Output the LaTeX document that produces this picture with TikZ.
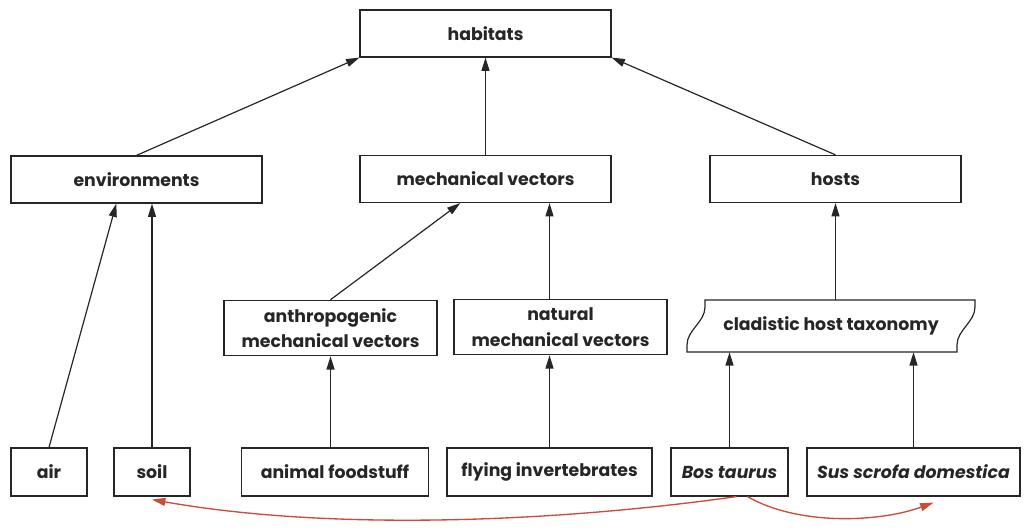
\documentclass[tikz,border=0pt]{standalone}
\usepackage{fontspec}
\setmainfont{Poppins}
\usepackage{xcolor}
\usetikzlibrary{arrows.meta, positioning, calc}

\definecolor{linkred}{RGB}{205,75,55}

\begin{document}
\begin{tikzpicture}[
    x=0.75pt, y=-0.75pt,
    box/.style={draw=black!85, line width=0.9pt, minimum width=188.25pt, minimum height=35.25pt, font=\fontsize{13}{19}\selectfont\bfseries, text=black!85, align=center, inner sep=2pt},
    twobox/.style={box, minimum width=159.75pt, minimum height=41.5pt},
    leafbox/.style={box, minimum height=36pt},
    arrow/.style={-{Triangle[length=10pt, width=6pt]}, line width=0.9pt, draw=black!85},
    redarrow/.style={-{Triangle[length=10pt, width=6pt]}, line width=1pt, draw=linkred}
]
\useasboundingbox (0,0) rectangle (1028,530);

% Top level
\node[box] (hab) at (485.5,33.5) {habitats};
\node[box] (env) at (136.5,179.5) {environments};
\node[box] (mech) at (485.5,179) {mechanical vectors};
\node[box] (hosts) at (835.5,179) {hosts};

% Middle level
\node[twobox] (anthro) at (330.5,328) {anthropogenic\\mechanical vectors};
\node[twobox] (nat) at (560.5,327) {natural\\mechanical vectors};
\draw[draw=black!85, line width=0.9pt]
    (687,352) -- (687,345) .. controls (687,330) and (705,322) .. (705,307) -- (705,300)
    -- (975,300) -- (975,307) .. controls (975,322) and (957,330) .. (957,345) -- (957,352) -- cycle;
\node[font=\fontsize{13}{19}\selectfont\bfseries, text=black!85, minimum height=39pt, minimum width=180pt] (clad) at (831,326) {cladistic host taxonomy};

% Leaves
\node[leafbox, minimum width=57pt] (air) at (49,472) {air};
\node[leafbox, minimum width=57pt] (soil) at (152,472) {soil};
\node[leafbox, minimum width=140.25pt] (food) at (335,472) {animal foodstuff};
\node[leafbox, minimum width=153.75pt] (fly) at (549.5,472) {flying invertebrates};
\node[leafbox, minimum width=87.75pt] (bos) at (729.5,472) {\itshape Bos taurus};
\node[leafbox, minimum width=159.75pt] (sus) at (913.5,472) {\itshape Sus scrofa domestica};

% Links up the tree
\draw[arrow] (env.north) -- (hab.south west);
\draw[arrow] (mech.north) -- (hab.south);
\draw[arrow] (hosts.north) -- (hab.south east);
\draw[arrow] (anthro.north) -- ($(mech.south west)!0.4!(mech.south east)$);
\draw[arrow] (fly.north |- nat.north) -- (fly.north |- mech.south);
\draw[arrow] (hosts.south |- clad.north) -- (hosts.south);
\draw[arrow] (air.north) -- ($(env.south west)!0.42!(env.south east)$);
\draw[arrow] (soil.north) -- (soil.north |- env.south);
\draw[arrow] (anthro.south |- food.north) -- (anthro.south);
\draw[arrow] (fly.north) -- (fly.north |- nat.south);
\draw[arrow] (bos.north) -- (bos.north |- clad.south);
\draw[arrow] (sus.north) -- (sus.north |- clad.south);

% Cross links
\draw[redarrow] ($(bos.south)+(7,0)$) to[out=188, in=-10, looseness=0.8] ($(soil.south)+(0,3)$);
\draw[redarrow] ($(bos.south)+(18,0)$) to[out=-30, in=200, looseness=0.8] ($(sus.south)+(20,6)$);

\end{tikzpicture}
\end{document}
